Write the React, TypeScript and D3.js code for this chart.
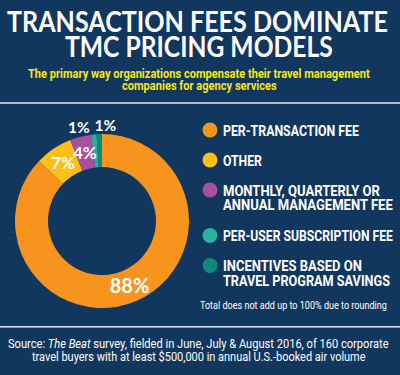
import React, { useLayoutEffect, useRef, useState } from "react";
import * as d3 from "d3";

const W = 400;
const H = 375;

const titleLines = ["TRANSACTION FEES DOMINATE", "TMC PRICING MODELS"];
const subtitleLines = [
  "The primary way organizations compensate their travel management",
  "companies for agency services",
];
const categories = [
  "PER-TRANSACTION FEE",
  "OTHER",
  "MONTHLY, QUARTERLY OR|ANNUAL MANAGEMENT FEE",
  "PER-USER SUBSCRIPTION FEE",
  "INCENTIVES BASED ON|TRAVEL PROGRAM SAVINGS",
];
const values = [88, 7, 4, 1, 1];
const colors = ["#f7941e", "#ffbf1a", "#a6509f", "#2bb0a0", "#0f8a78"];
const note = "Total does not add up to 100% due to rounding";

const BG = "#12375f";
const FONT_TITLE = "Lato, 'Open Sans', sans-serif";
const FONT_COND = "Roboto, 'Liberation Sans', sans-serif";

const cx = 102;
const cy = 221;
const rOuter = 87;
const rInner = 54;

const legendWidths: Record<string, number> = {
  "PER-TRANSACTION FEE": 136,
  OTHER: 39,
  "MONTHLY, QUARTERLY OR": 157,
  "ANNUAL MANAGEMENT FEE": 170,
  "PER-USER SUBSCRIPTION FEE": 170,
  "INCENTIVES BASED ON": 139,
  "TRAVEL PROGRAM SAVINGS": 167,
};

type FitProps = {
  x: number;
  y: number;
  width: number;
  fill: string;
  fontFamily: string;
  fontSize: number;
  fontWeight?: number;
  children: React.ReactNode;
};

// Text horizontally scaled (via transform) to a measured target width
function FitText({ x, y, width, fill, fontFamily, fontSize, fontWeight, children }: FitProps) {
  const ref = useRef<SVGTextElement>(null);
  const [sx, setSx] = useState(1);
  useLayoutEffect(() => {
    if (ref.current) {
      const n = ref.current.getComputedTextLength();
      if (n > 0) setSx(width / n);
    }
  }, [width]);
  return (
    <g transform={`translate(${x},${y}) scale(${sx},1)`}>
      <text
        ref={ref}
        x={0}
        y={0}
        fill={fill}
        fontFamily={fontFamily}
        fontSize={fontSize}
        fontWeight={fontWeight}
      >
        {children}
      </text>
    </g>
  );
}

export default function App() {
  const pie = d3
    .pie<number>()
    .sort(null)
    .value((d) => d)
    .startAngle(0)
    .endAngle(2 * Math.PI);
  const arcs = pie(values);
  const arc = d3
    .arc<d3.PieArcDatum<number>>()
    .innerRadius(rInner)
    .outerRadius(rOuter);
  const labelArc = d3
    .arc<d3.PieArcDatum<number>>()
    .innerRadius(70)
    .outerRadius(70);

  const legendY0 = 130;
  const gapItem = 30;
  const lineH = 14.5;
  let y = legendY0;
  const legendItems = categories.map((c, i) => {
    const lines = c.split("|");
    const item = { lines, y, color: colors[i] };
    y += gapItem + (lines.length - 1) * lineH + (lines.length > 1 ? 1 : 0);
    return item;
  });

  let smallIdx = 0;
  const smallOffsets = [-0.15, 0.065];

  return (
    <svg
      width={W}
      height={H}
      style={{ position: "fixed", left: 0, top: 0, display: "block" }}
    >
      <rect width={W} height={H} fill={BG} />
      <FitText x={7} y={32} width={381} fill="#fff" fontFamily={FONT_TITLE} fontWeight={700} fontSize={28}>
        {titleLines[0]}
      </FitText>
      <FitText x={65} y={57} width={268} fill="#fff" fontFamily={FONT_TITLE} fontWeight={700} fontSize={28}>
        {titleLines[1]}
      </FitText>
      <FitText x={28} y={77.5} width={342} fill="#f5e81c" fontFamily={FONT_COND} fontWeight={700} fontSize={12.5}>
        {subtitleLines[0]}
      </FitText>
      <FitText x={122} y={90} width={155} fill="#f5e81c" fontFamily={FONT_COND} fontWeight={700} fontSize={12.5}>
        {subtitleLines[1]}
      </FitText>

      <rect x={0} y={102} width={W} height={2} fill="#a9b8cc" />
      <rect x={0} y={326} width={W} height={1.6} fill="#d3dde9" />

      <g transform={`translate(${cx},${cy})`}>
        {arcs.map((a, i) => (
          <path key={i} d={arc(a) || ""} fill={colors[i]} />
        ))}
        {arcs.map((a, i) => {
          const pct = `${values[i]}%`;
          const frac = values[i] / d3.sum(values);
          if (frac > 0.02) {
            const [lx, ly] = labelArc.centroid(a);
            return (
              <text
                key={"l" + i}
                x={lx}
                y={ly}
                dy="0.36em"
                textAnchor="middle"
                fill="#fff"
                fontFamily={FONT_TITLE}
                fontWeight={700}
                fontSize={i === 0 ? 20 : 17}
              >
                {pct}
              </text>
            );
          }
          const mid = (a.startAngle + a.endAngle) / 2 + smallOffsets[smallIdx++ % 2];
          const rr = 96;
          return (
            <text
              key={"l" + i}
              x={rr * Math.sin(mid)}
              y={-rr * Math.cos(mid)}
              dy="0.36em"
              textAnchor="middle"
              fill="#fff"
              fontFamily={FONT_TITLE}
              fontWeight={700}
              fontSize={15.5}
            >
              {pct}
            </text>
          );
        })}
      </g>

      {legendItems.map((it, i) => (
        <g key={"lg" + i}>
          <circle cx={210} cy={it.y} r={7.5} fill={it.color} />
          {it.lines.map((ln, j) => (
            <FitText
              key={j}
              x={223}
              y={it.y + 5.5 + j * lineH}
              width={legendWidths[ln]}
              fill="#fff"
              fontFamily={FONT_COND}
              fontWeight={700}
              fontSize={15}
            >
              {ln}
            </FitText>
          ))}
        </g>
      ))}
      <FitText x={200} y={309} width={187} fill="#fff" fontFamily={FONT_COND} fontSize={10.5}>
        {note}
      </FitText>

      <FitText x={8} y={347.5} width={381} fill="#fff" fontFamily={FONT_COND} fontSize={12.5}>
        Source: <tspan fontStyle="italic">The Beat</tspan> survey, fielded in June, July &amp; August
        2016, of 160 corporate
      </FitText>
      <FitText x={32} y={361} width={334} fill="#fff" fontFamily={FONT_COND} fontSize={12.5}>
        travel buyers with at least $500,000 in annual U.S.-booked air volume
      </FitText>
    </svg>
  );
}
